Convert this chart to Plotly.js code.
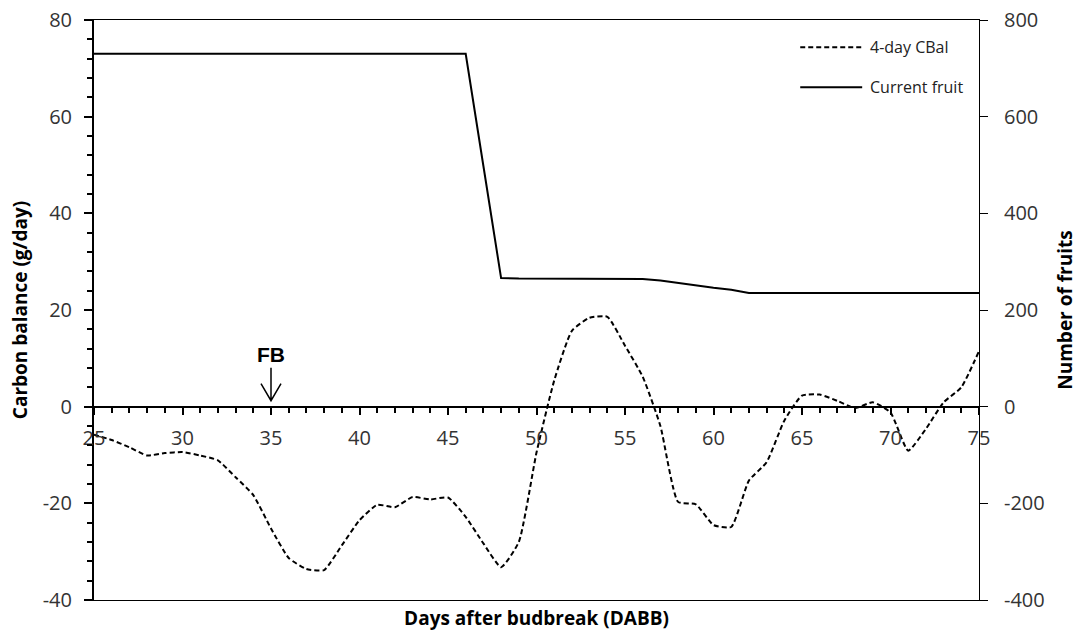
<!DOCTYPE html>
<html>
<head>
<meta charset="utf-8">
<script src="https://cdn.plot.ly/plotly-3.0.1.min.js"></script>
<style>
  html, body { margin: 0; padding: 0; background: #fff; }
  #chart { width: 1078px; height: 632px; }
</style>
</head>
<body>
<div id="chart"></div>
<script>
// Days after budbreak
const days = [];
for (let d = 25; d <= 75; d++) days.push(d);

// 4-day running carbon balance (g/day), left axis
const cbal4day = [
  -5.8, -6.9, -8.4, -10.1, -9.6, -9.4, -10.1, -11.1, -14.6, -18.3,
  -25.2, -31.3, -33.6, -33.8, -28.7, -23.5, -20.3, -20.8, -18.7, -19.2,
  -18.8, -22.8, -28.3, -33.2, -28.0, -9.5, 5.4, 15.7, 18.4, 18.6,
  12.6, 6.2, -4.0, -19.7, -20.2, -24.5, -24.9, -15.3, -11.5, -2.9,
  2.3, 2.5, 1.2, -0.3, 0.9, -1.2, -9.1, -4.6, 0.9, 4.0,
  11.5
];

// Number of fruits currently on the tree, right axis
const currentFruit = [
  730, 730, 730, 730, 730, 730, 730, 730, 730, 730,
  730, 730, 730, 730, 730, 730, 730, 730, 730, 730,
  730, 730, 498, 266, 265, 265, 265, 265, 265, 265,
  265, 264, 261, 256, 250, 246, 242, 235, 235, 235,
  235, 235, 235, 235, 235, 235, 235, 235, 235, 235,
  235
];

const seriesNames = ['4-day CBal', 'Current fruit'];

// tick values and labels (plain hyphen for negatives)
const dayTicks = [25, 30, 35, 40, 45, 50, 55, 60, 65, 70, 75];
const cbalTicks = [-40, -20, 0, 20, 40, 60, 80];
const cbalTickText = ['-40', '-20', '0', '20', '40', '60', '80'];
const fruitTicks = [-400, -200, 0, 200, 400, 600, 800];
const fruitTickText = ['-400', '-200', '0', '200', '400', '600', '800'];

const fbDay = 35;

const tickFont = { family: 'Open Sans, sans-serif', size: 20, color: '#333' };
const titleFont = { family: 'Open Sans, sans-serif', size: 19, color: '#000', weight: 'bold' };
const legendFont = { family: 'Open Sans, sans-serif', size: 16, color: '#222' };

const lineStyles = [
  { color: '#000', width: 2, dash: '5px,3px' },
  { color: '#000', width: 2 }
];

const traces = [
  {
    x: days, y: cbal4day, name: seriesNames[0], type: 'scatter', mode: 'lines',
    xaxis: 'x', yaxis: 'y',
    line: Object.assign({ shape: 'spline', smoothing: 0.5 }, lineStyles[0])
  },
  {
    x: days, y: currentFruit, name: seriesNames[1], type: 'scatter', mode: 'lines',
    xaxis: 'x2', yaxis: 'y2',
    line: lineStyles[1]
  }
];

// legend drawn as line samples plus labels in the upper right corner
const legendRowsY = [0.953, 0.884];
const legendShapes = seriesNames.map((n, i) => ({
  type: 'line', xref: 'paper', yref: 'paper',
  x0: 0.798, x1: 0.868, y0: legendRowsY[i], y1: legendRowsY[i],
  line: lineStyles[i]
}));
const legendLabels = seriesNames.map((n, i) => ({
  xref: 'paper', yref: 'paper', x: 0.875, y: legendRowsY[i],
  xanchor: 'left', yanchor: 'middle', text: n, showarrow: false,
  font: legendFont
}));

const layout = {
  width: 1078, height: 632,
  margin: { l: 94, r: 99, t: 20, b: 32, pad: 0 },
  paper_bgcolor: '#fff', plot_bgcolor: '#fff',
  showlegend: false,
  // day axis crossing the left axis at zero
  xaxis: {
    range: [25, 75], anchor: 'free', position: 1 / 3,
    showline: true, linecolor: '#000', linewidth: 2,
    showgrid: false, zeroline: false,
    tickmode: 'array', tickvals: dayTicks,
    ticks: 'outside', ticklen: 7, tickwidth: 2, tickcolor: '#000',
    minor: { dtick: 1, ticks: 'outside', ticklen: 5, tickwidth: 2, tickcolor: '#000' },
    ticklabelstandoff: 6,
    tickfont: tickFont
  },
  // frame along the bottom and top, carrying the day axis title
  xaxis2: {
    range: [25, 75], overlaying: 'x', anchor: 'y', side: 'bottom',
    showline: true, mirror: true, linecolor: '#000', linewidth: 1,
    showgrid: false, zeroline: false, ticks: '', showticklabels: false,
    title: { text: 'Days after budbreak (DABB)', font: titleFont, standoff: 11 }
  },
  yaxis: {
    range: [-40, 80], anchor: 'x', side: 'left',
    showline: true, linecolor: '#000', linewidth: 2,
    showgrid: false, zeroline: false,
    tickmode: 'array', tickvals: cbalTicks, ticktext: cbalTickText,
    ticks: 'outside', ticklen: 8, tickwidth: 2, tickcolor: '#000',
    minor: { tickmode: 'linear', tick0: 0, dtick: 4, ticks: 'outside', ticklen: 5, tickwidth: 2, tickcolor: '#000' },
    ticklabelstandoff: 8,
    tickfont: tickFont,
    title: { text: 'Carbon balance (g/day)', font: titleFont, standoff: 10 }
  },
  yaxis2: {
    range: [-400, 800], overlaying: 'y', anchor: 'x2', side: 'right',
    showline: true, linecolor: '#000', linewidth: 1,
    showgrid: false, zeroline: false,
    tickmode: 'array', tickvals: fruitTicks, ticktext: fruitTickText,
    ticks: 'outside', ticklen: 8, tickwidth: 1, tickcolor: '#000',
    ticklabelstandoff: 12,
    tickfont: tickFont,
    title: { text: 'Number of fruits', font: titleFont, standoff: 14 }
  },
  annotations: [
    {
      x: fbDay, y: 0, xref: 'x', yref: 'y', text: 'FB', showarrow: false,
      yanchor: 'bottom', yshift: 39,
      font: { family: 'Liberation Sans, Arial, sans-serif', size: 21, color: '#000', weight: 'bold' }
    }
  ].concat(legendLabels),
  shapes: [
    {
      // open arrow marking FB
      type: 'path', xref: 'x', yref: 'y',
      xsizemode: 'pixel', ysizemode: 'pixel', xanchor: fbDay, yanchor: 0,
      path: 'M0,6 L0,39 M-10,23 L0,6 L10,23',
      line: { color: '#000', width: 1.5 }
    }
  ].concat(legendShapes)
};

Plotly.newPlot('chart', traces, layout, { displayModeBar: false, staticPlot: true });
</script>
</body>
</html>
